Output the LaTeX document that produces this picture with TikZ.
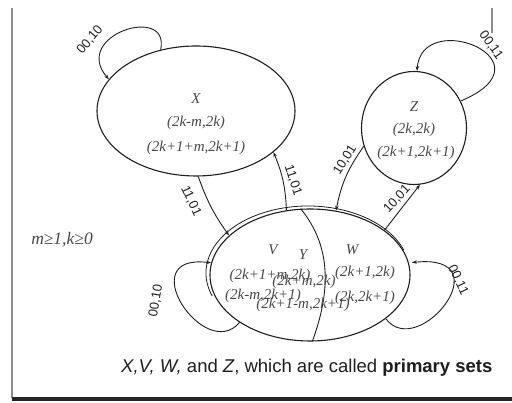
\documentclass[tikz,border=0pt]{standalone}
\usepackage{fontspec}
\setmainfont{Liberation Serif}
\setsansfont{Liberation Sans}
\usetikzlibrary{
  arrows.meta,
  shapes.geometric
}
\definecolor{ink}{RGB}{30,30,30}
\definecolor{pairgray}{RGB}{72,72,72}
\definecolor{framegray}{RGB}{140,140,140}

\begin{document}
\begin{tikzpicture}[x=1pt, y=1pt,
  set/.style={ellipse, draw=ink, line width=1.1pt, inner sep=0pt},
  trans/.style={draw=ink, line width=0.9pt, -{Stealth[length=5pt,width=3.5pt]}},
  pair/.style={text=pairgray, font=\fontsize{15}{15}\selectfont\itshape, inner sep=0pt},
  edgelbl/.style={text=ink, font=\sffamily\fontsize{13}{13}\selectfont, inner sep=0pt}]
  \useasboundingbox (0,0) rectangle (512,403);
  % frame of the slide
  \draw[framegray, line width=2pt] (12,395) -- (12,5);
  \draw[framegray, line width=2pt] (492,395) -- (492,370);
  \draw[black!85, line width=4pt] (12,4) -- (512,4);

  % the sets
  \node[set, minimum width=198, minimum height=130] (X) at (196,292) {};
  \node[set, minimum width=105, minimum height=113] (Z) at (414,275) {};
  \node[set, minimum width=200, minimum height=132] (VYW) at (310,128) {};
  \draw[ink, line width=0.8pt] (308,130) ++(20:102 and 67)
    arc[start angle=20, end angle=200, x radius=102, y radius=67];
  \draw[ink, line width=0.9pt] (VYW.98) .. controls +(26,-32) and +(22,60) .. (VYW.272);

  \node[pair] (xname) at (196,304) {X};
  \node[pair] (xa) at (196,280) {(2k-m,2k)};
  \node[pair] (xb) at (196,255) {(2k+1+m,2k+1)};
  \node[pair] (zname) at (414,296) {Z};
  \node[pair] (za) at (414,273) {(2k,2k)};
  \node[pair] (zb) at (416,250) {(2k+1,2k+1)};
  \node[pair] (vname) at (273,153) {V};
  \node[pair] (yname) at (303,148) {Y};
  \node[pair] (wname) at (352,153) {W};
  \node[pair] (va) at (270,127) {(2k+1+m,2k)};
  \node[pair] (vb) at (263,107) {(2k-m,2k+1)};
  \node[pair] (ya) at (304,121) {(2k+m,2k)};
  \node[pair] (yb) at (303,98) {(2k+1-m,2k+1)};
  \node[pair] (wa) at (365,130) {(2k+1,2k)};
  \node[pair] (wb) at (365,105) {(2k,2k+1)};
  \node[pair, font=\fontsize{17.5}{17.5}\selectfont\itshape] (cond) at (62,163) {m≥1,k≥0};

  % transitions
  \draw[trans] (X.120) .. controls +(10,46) and +(-38,44) .. (X.160);
  \draw[trans] (Z.30) .. controls +(95,40) and +(5,64) .. (Z.87);
  \draw[trans] (VYW.214) .. controls +(-35,-41) and +(-80,10) .. (VYW.173);
  \draw[trans, shorten >=3pt] (VYW.-30) .. controls +(33,-43) and +(95,10) .. (VYW.7);
  \draw[trans] (X.-88) to[bend right=8] (VYW.154);
  \draw[trans] (VYW.110) to[bend right=10] (X.-28);
  \draw[trans] (Z.200) to[bend right=12] (VYW.68);
  \draw[trans] (VYW.31) -- (Z.-84);

  \node[edgelbl, rotate=50] (lx) at (90,363) {00,10};
  \node[edgelbl, rotate=-55] (lz) at (491,358) {00,11};
  \node[edgelbl, rotate=-65] (lxv) at (191,202) {11,01};
  \node[edgelbl, rotate=-72] (lvx) at (293,223) {11,01};
  \node[edgelbl, rotate=58] (lzv) at (345,243) {10,01};
  \node[edgelbl, rotate=47] (lvz) at (397,204) {10,01};
  \node[edgelbl, rotate=80] (lv) at (156,102) {00,10};
  \node[edgelbl, rotate=-65] (lw) at (458,123) {00,11};

  \node[anchor=west, inner sep=0pt, text=ink, font=\sffamily\fontsize{18.5}{18.5}\selectfont] (caption) at (121,35)
    {\textit{X,V, W,} and \textit{Z}, which are called \textbf{primary sets}};
\end{tikzpicture}
\end{document}
